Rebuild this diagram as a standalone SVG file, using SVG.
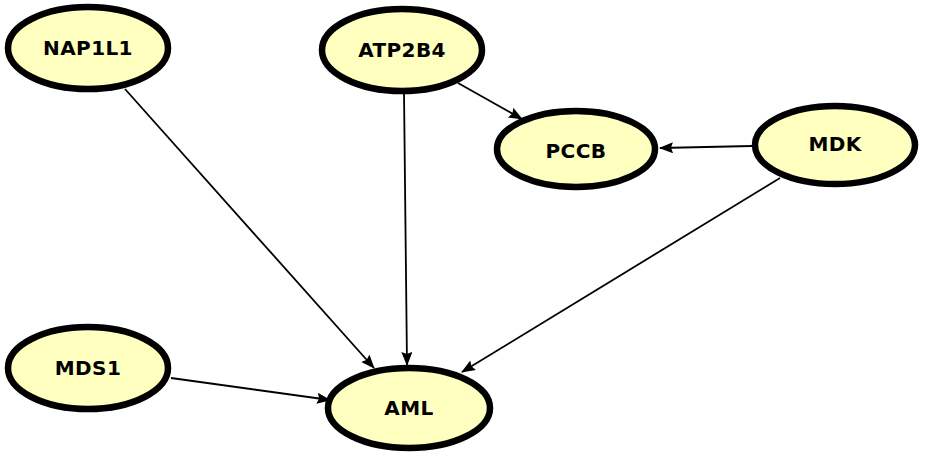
<svg xmlns="http://www.w3.org/2000/svg" width="932" height="463" viewBox="0 0 932 463">
<style>
.node ellipse{fill:#ffffc0;stroke:#000;stroke-width:6.5}
.node text{font-family:"DejaVu Sans",sans-serif;font-weight:bold;font-size:20px;fill:#000;text-anchor:middle;dominant-baseline:central;letter-spacing:0.4px}
.edges line{stroke:#000;stroke-width:1.8;fill:none}
</style>
<defs>
<marker id="arr" markerUnits="userSpaceOnUse" markerWidth="14" markerHeight="12" refX="13" refY="5.5" orient="auto">
<path d="M0,0 L14,5.5 L0,11 L2,5.5 z" fill="#000"/>
</marker>
</defs>
<rect width="932" height="463" fill="#fff"/>
<g class="edges">
<line x1="125" y1="89" x2="374" y2="368" marker-end="url(#arr)"/>
<line x1="404" y1="92" x2="407" y2="365" marker-end="url(#arr)"/>
<line x1="780" y1="178" x2="462" y2="372" marker-end="url(#arr)"/>
<line x1="171" y1="378" x2="330" y2="400" marker-end="url(#arr)"/>
<line x1="458" y1="83" x2="522" y2="119" marker-end="url(#arr)"/>
<line x1="752" y1="146" x2="660" y2="148" marker-end="url(#arr)"/>
</g>
<g id="NAP1L1" class="node"><ellipse cx="88" cy="48" rx="80" ry="41"/><text x="88" y="48">NAP1L1</text></g>
<g id="ATP2B4" class="node"><ellipse cx="402" cy="50" rx="80" ry="41"/><text x="402" y="50">ATP2B4</text></g>
<g id="PCCB" class="node"><ellipse cx="576" cy="149" rx="79" ry="38"/><text x="576" y="151">PCCB</text></g>
<g id="MDK" class="node"><ellipse cx="835" cy="145" rx="80" ry="39"/><text x="835" y="144">MDK</text></g>
<g id="MDS1" class="node"><ellipse cx="88" cy="368" rx="80" ry="41"/><text x="88" y="368">MDS1</text></g>
<g id="AML" class="node"><ellipse cx="409" cy="408" rx="81" ry="40"/><text x="409" y="408">AML</text></g>
</svg>
